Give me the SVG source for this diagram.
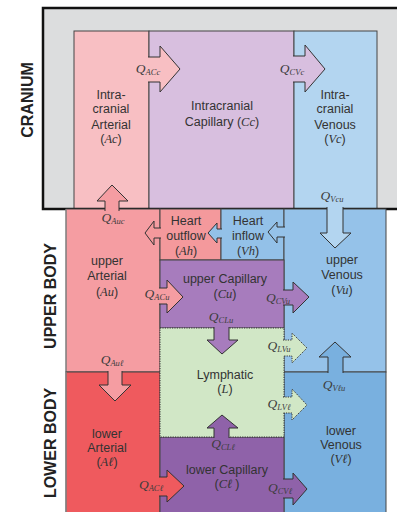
<svg xmlns="http://www.w3.org/2000/svg" width="397" height="512" viewBox="0 0 397 512">
<style>
.box{stroke:#444;stroke-width:1}
.lbl{font-family:"Liberation Sans",Arial,sans-serif;font-size:12.5px;fill:#333;text-anchor:middle}
.m{font-family:"Liberation Serif","DejaVu Serif",serif;font-style:italic}
.q{font-family:"Liberation Serif","DejaVu Serif",serif;font-style:italic;font-size:13.5px;fill:#3c3c3c;text-anchor:middle}
.s{font-size:8.5px}
.region{font-family:"Liberation Sans",Arial,sans-serif;font-weight:bold;font-size:16px;fill:#222;text-anchor:middle}
.arr{stroke:#333;stroke-width:1;stroke-linejoin:miter}
.dot{stroke:#333;stroke-width:1;stroke-dasharray:1.2 1.2}
</style>
<rect x="0" y="0" width="397" height="512" fill="#ffffff"/>
<g id="cranium">
<rect x="43" y="8" width="360" height="201" fill="#dcddde"/>
</g>
<g id="Ac"><rect class="box" x="74" y="31" width="75" height="178" fill="#f8bfc3"/>
<text class="lbl" x="111" y="99">Intra-</text><text class="lbl" x="111" y="113">cranial</text><text class="lbl" x="111" y="129">Arterial</text><text class="lbl" x="111" y="143">(<tspan class="m">Ac</tspan>)</text></g>
<g id="Cc"><rect class="box" x="149" y="31" width="145" height="178" fill="#d8bfdf"/>
<text class="lbl" x="222" y="110">Intracranial</text><text class="lbl" x="222" y="126">Capillary (<tspan class="m">Cc</tspan>)</text></g>
<g id="Vc"><rect class="box" x="294" y="31" width="83" height="178" fill="#b3d5f0"/>
<text class="lbl" x="335" y="99">Intra-</text><text class="lbl" x="335" y="113">cranial</text><text class="lbl" x="335" y="129">Venous</text><text class="lbl" x="335" y="143">(<tspan class="m">Vc</tspan>)</text></g>
<rect x="43" y="8" width="360" height="201" fill="none" stroke="#111" stroke-width="2.5"/>
<g id="Au"><rect x="66" y="209" width="94" height="163" fill="#f59da2" stroke="#444" stroke-width="1"/>
<line x1="66" y1="209" x2="66" y2="512" stroke="#999" stroke-width="1"/>
<text class="lbl" x="107" y="265">upper</text><text class="lbl" x="107" y="280">Arterial</text><text class="lbl" x="107" y="296">(<tspan class="m">Au</tspan>)</text></g>
<g id="Al"><rect class="box" x="66" y="372" width="94" height="145" fill="#ef5a5e"/>
<line x1="66" y1="372" x2="66" y2="512" stroke="#999" stroke-width="1"/>
<text class="lbl" x="107" y="438">lower</text><text class="lbl" x="107" y="452">Arterial</text><text class="lbl" x="107" y="466">(<tspan class="m">Aℓ</tspan>)</text></g>
<g id="Ah"><rect class="box" x="160" y="209" width="61" height="51" fill="#f4999c"/>
<text class="lbl" x="186" y="225">Heart</text><text class="lbl" x="186" y="240">outflow</text><text class="lbl" x="186" y="255">(<tspan class="m">Ah</tspan>)</text></g>
<g id="Vh"><rect class="box" x="221" y="209" width="63" height="51" fill="#93c1e8"/>
<text class="lbl" x="248" y="225">Heart</text><text class="lbl" x="248" y="240">inflow</text><text class="lbl" x="248" y="255">(<tspan class="m">Vh</tspan>)</text></g>
<g id="Vu"><rect class="box" x="284" y="209" width="102" height="163" fill="#95c2e9"/>
<text class="lbl" x="342" y="264">upper</text><text class="lbl" x="342" y="279">Venous</text><text class="lbl" x="342" y="294">(<tspan class="m">Vu</tspan>)</text></g>
<g id="Vl"><rect class="box" x="284" y="372" width="102" height="145" fill="#79b0df"/>
<text class="lbl" x="341" y="435">lower</text><text class="lbl" x="341" y="449">Venous</text><text class="lbl" x="341" y="463">(<tspan class="m">Vℓ</tspan>)</text></g>
<g id="Cu"><rect class="box" x="160" y="260" width="124" height="68" fill="#a77cbd"/>
<text class="lbl" x="225" y="283">upper Capillary</text><text class="lbl" x="225" y="298">(<tspan class="m">Cu</tspan>)</text></g>
<g id="Cl"><rect class="box" x="160" y="437" width="124" height="80" fill="#8f62a9"/>
<text class="lbl" x="227" y="474">lower Capillary</text><text class="lbl" x="227" y="488">(<tspan class="m">Cℓ </tspan>)</text></g>
<g id="L"><rect x="160" y="328" width="124" height="109" fill="#d1e7c6" class="dot"/>
<text class="lbl" x="225" y="379">Lymphatic</text><text class="lbl" x="225" y="393">(<tspan class="m">L</tspan>)</text></g>
<g id="regions">
<text class="region" transform="translate(33,100) rotate(-90)">CRANIUM</text>
<text class="region" transform="translate(56,296) rotate(-90)">UPPER BODY</text>
<text class="region" transform="translate(56,443) rotate(-90)">LOWER BODY</text>
</g>
<g id="connectors">
<path class="arr" d="M148,57 H160 V46 L180,69 L160,92 V82 H148" fill="#f8bfc3"/>
<path class="arr" d="M293,56 H305 V45 L325,69 L305,92 V82 H293" fill="#d8bfdf"/>
<path class="arr" d="M105,211 V201 H97 L112,185 L128,201 H119 V211" fill="#f59da2"/>
<path class="arr" d="M327,207 V233 H320 L335,248 L351,233 H343 V207" fill="#b3d5f0"/>
<path class="arr" d="M161,228 H154 V221 L145,233 L154,245 V238 H161" fill="#f4999c"/>
<path class="arr" d="M222,229 H217 V223 L208,233 L217,243 V238 H222" fill="#93c1e8"/>
<path class="arr" d="M285,227 H277 V222 L268,232 L277,243 V237 H285" fill="#95c2e9"/>
<path class="arr" d="M159,288 H167 V280 L183,297 L167,313 V304 H159" fill="#f59da2"/>
<path class="arr" d="M283,290 H293 V282 L309,297 L293,313 V305 H283" fill="#a77cbd"/>
<path class="arr" d="M214,327 V340 H207 L222,354 L238,340 H229 V327" fill="#a77cbd"/>
<path class="dot" d="M283,340 H292 V333 L307,348 L292,363 V356 H283" fill="#d1e7c6"/>
<path class="arr" d="M328,373 V357 H319 L335,342 L351,357 H343 V373" fill="#79b0df"/>
<path class="dot" d="M283,397 H292 V389 L307,405 L292,420 V413 H283" fill="#d1e7c6"/>
<path class="arr" d="M108,371 V385 H99 L115,401 L131,385 H122 V371" fill="#f59da2"/>
<path class="arr" d="M214,438 V428 H207 L222,415 L238,428 H229 V438" fill="#8f62a9"/>
<path class="arr" d="M159,477 H167 V470 L184,486 L167,502 V496 H159" fill="#ef5a5e"/>
<path class="arr" d="M283,479 H293 V473 L307,489 L293,505 V498 H283" fill="#8f62a9"/>
<text class="q" x="148" y="73">Q<tspan class="s" dy="1.5">ACc</tspan></text>
<text class="q" x="292" y="73">Q<tspan class="s" dy="1.5">CVc</tspan></text>
<text class="q" x="113" y="222">Q<tspan class="s" dy="1.5">Auc</tspan></text>
<text class="q" x="332" y="200">Q<tspan class="s" dy="1.5">Vcu</tspan></text>
<text class="q" x="157" y="298">Q<tspan class="s" dy="1.5">ACu</tspan></text>
<text class="q" x="278" y="302">Q<tspan class="s" dy="1.5">CVu</tspan></text>
<text class="q" x="221" y="321">Q<tspan class="s" dy="1.5">CLu</tspan></text>
<text class="q" x="279" y="350">Q<tspan class="s" dy="1.5">LVu</tspan></text>
<text class="q" x="334" y="389">Q<tspan class="s" dy="1.5">Vℓu</tspan></text>
<text class="q" x="279" y="408">Q<tspan class="s" dy="1.5">LVℓ</tspan></text>
<text class="q" x="112" y="364">Q<tspan class="s" dy="1.5">Auℓ</tspan></text>
<text class="q" x="223" y="448">Q<tspan class="s" dy="1.5">CLℓ</tspan></text>
<text class="q" x="151" y="489">Q<tspan class="s" dy="1.5">ACℓ</tspan></text>
<text class="q" x="280" y="492">Q<tspan class="s" dy="1.5">CVℓ</tspan></text>
</g>
</svg>
